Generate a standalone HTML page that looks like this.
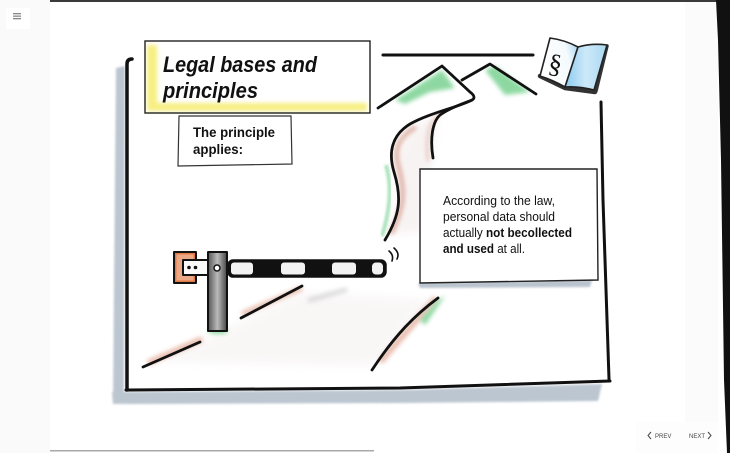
<!DOCTYPE html>
<html><head><meta charset="utf-8">
<style>
html,body{margin:0;padding:0;width:730px;height:453px;overflow:hidden;background:#fff;}
svg{display:block;}
</style></head>
<body>
<svg width="730" height="453" viewBox="0 0 730 453" xmlns="http://www.w3.org/2000/svg">
<defs>
  <filter id="blur2" x="-20%" y="-20%" width="140%" height="140%"><feGaussianBlur stdDeviation="2"/></filter>
  <filter id="blur4" x="-30%" y="-30%" width="160%" height="160%"><feGaussianBlur stdDeviation="4"/></filter>
  <filter id="blur1" x="-20%" y="-20%" width="140%" height="140%"><feGaussianBlur stdDeviation="1"/></filter>
  <linearGradient id="post" x1="0" x2="1" y1="0" y2="0">
    <stop offset="0" stop-color="#555"/><stop offset="0.5" stop-color="#bbb"/><stop offset="1" stop-color="#444"/>
  </linearGradient>
  <linearGradient id="blueR" x1="0" x2="1" y1="0" y2="0">
    <stop offset="0" stop-color="#8ccbf0"/><stop offset="0.5" stop-color="#cde9f8"/><stop offset="1" stop-color="#a9d8f3"/>
  </linearGradient>
  <linearGradient id="blueL" x1="1" x2="0" y1="0" y2="0.3">
    <stop offset="0" stop-color="#9fd2f2"/><stop offset="0.35" stop-color="#f4fafd"/><stop offset="1" stop-color="#ffffff"/>
  </linearGradient>
</defs>

<!-- page backgrounds -->
<rect x="0" y="0" width="50" height="453" fill="#fafafa"/>
<rect x="6" y="8" width="24" height="21" fill="#ffffff"/>
<rect x="13" y="13" width="8" height="1.3" fill="#888"/>
<rect x="13" y="15.5" width="8" height="1.3" fill="#888"/>
<rect x="13" y="18" width="8" height="1.3" fill="#888"/>
<rect x="685" y="0" width="33" height="453" fill="#fbfbfb"/>
<rect x="50" y="0" width="668" height="2" fill="#3a3a3a"/>
<polygon points="716,0 730,0 730,453 727,453 724,380 721,160 718,40" fill="#111"/>
<rect x="50" y="450" width="324" height="1.5" fill="#a8a8a8"/>
<rect x="636" y="422" width="82" height="31" fill="#fdfdfd"/>

<!-- frame shadow -->
<g fill="#bcc6d0" filter="url(#blur1)">
  <polygon points="116,68 125,66 124,398 113,402"/>
  <polygon points="112,392 400,390 602,384 598,401 400,403 113,404"/>
</g>

<!-- road shading -->
<g filter="url(#blur4)" opacity="0.3">
  <polygon points="160,362 300,292 432,300 375,366" fill="#ece4e4"/>
  <polygon points="388,235 399,200 394,160 410,127 438,114 433,160 424,232" fill="#eadada"/>
</g>
<g filter="url(#blur2)" opacity="0.55" fill="none" stroke-linecap="round">
  <path d="M150,362 L200,340" stroke="#d98a70" stroke-width="6"/>
  <path d="M244,313 L300,289" stroke="#d98a70" stroke-width="5"/>
  <path d="M382,360 L434,300" stroke="#d98a70" stroke-width="6"/>
  <path d="M392,232 C405,205 405,190 398,165 C394,150 398,138 414,128" stroke="#c9826b" stroke-width="5"/>
  <path d="M428,160 C426,140 428,122 440,114" stroke="#d0a090" stroke-width="3"/>
  <path d="M310,300 L345,290" stroke="#c4c4c4" stroke-width="5"/>
</g>
<!-- green shading -->
<g filter="url(#blur2)" fill="#5dc87a" opacity="0.7">
  <polygon points="395,100 442,70 455,88 430,92 405,104"/>
  <polygon points="485,70 495,66 530,92 505,95"/>
  <polygon points="438,300 445,296 425,325 420,320"/>
  <ellipse cx="218" cy="331" rx="10" ry="3"/>
</g>
<path d="M382,236 C390,210 392,185 386,165" stroke="#6ccf8a" stroke-width="4" fill="none" opacity="0.55" filter="url(#blur1)"/>

<!-- frame lines -->
<g fill="none" stroke="#111" stroke-linecap="round" stroke-linejoin="round">
  <path d="M132,59 Q127,59 127,64 L127,390" stroke-width="3.5"/>
  <path d="M126,390 L400,388 L610,381" stroke-width="3"/>
  <path d="M601,102 L603,200 L609,379" stroke-width="3"/>
  <path d="M383,55 L533,55" stroke-width="3"/>
</g>

<!-- mountains & road lines -->
<g fill="none" stroke="#111" stroke-width="2.8" stroke-linecap="round" stroke-linejoin="round">
  <path d="M378,108 L442,66 L470,92 Q478,98 470,101"/>
  <path d="M462,80 L490,64 L536,94"/>
  <path d="M385,240 C400,215 402,198 394,172 C388,152 392,135 410,124 C430,113 455,108 470,101"/>
  <path d="M433,158 C430,140 432,122 440,115 C450,108 462,104 472,100"/>
  <path d="M143,367 L200,342"/>
  <path d="M241,318 L302,286"/>
  <path d="M372,370 C395,335 415,315 438,298"/>
  <path d="M389,251 Q394,255 392,261" stroke-width="1.6"/>
  <path d="M394,248 Q400,253 397,259" stroke-width="1.6"/>
</g>

<!-- barrier -->
<g stroke="#111" stroke-linejoin="round">
  <rect x="174" y="252" width="22" height="31" fill="#e07a45" stroke-width="2"/>
  <rect x="176.5" y="254.5" width="17" height="26" fill="#ffffff" stroke="none" opacity="0.35"/>
  <rect x="228" y="260" width="158" height="17" rx="5" fill="#111" stroke-width="1.5"/>
  <rect x="231" y="262.5" width="22" height="12" rx="3" fill="#f2f2f2" stroke="none"/>
  <rect x="281" y="262.5" width="24" height="12" rx="3" fill="#f2f2f2" stroke="none"/>
  <rect x="332" y="262.5" width="24" height="12" rx="3" fill="#f2f2f2" stroke="none"/>
  <rect x="372" y="262.5" width="11" height="12" rx="4" fill="#f2f2f2" stroke="none"/>
  <rect x="183" y="260" width="26" height="15" fill="#fafafa" stroke-width="2"/>
  <circle cx="189" cy="267.5" r="1.8" fill="#111" stroke="none"/>
  <circle cx="195.5" cy="267.5" r="1.8" fill="#111" stroke="none"/>
  <rect x="208" y="252" width="19" height="79" fill="url(#post)" stroke-width="2"/>
  <circle cx="217" cy="268" r="3" fill="#fff" stroke-width="1.5"/>
</g>

<!-- title box -->
<rect x="145" y="41" width="225" height="72" fill="#fff"/>
<g filter="url(#blur2)" opacity="0.85">
  <rect x="147" y="45" width="10" height="64" fill="#f5ec6a"/>
  <rect x="147" y="103" width="220" height="8" fill="#f5ec6a"/>
</g>
<rect x="145" y="41" width="225" height="72" fill="none" stroke="#222" stroke-width="1.4"/>
<text x="163" y="72" font-family="Liberation Sans, sans-serif" font-weight="bold" font-style="italic" font-size="22" fill="#111" textLength="154" lengthAdjust="spacingAndGlyphs">Legal bases and</text>
<text x="163" y="98" font-family="Liberation Sans, sans-serif" font-weight="bold" font-style="italic" font-size="22" fill="#111" textLength="95" lengthAdjust="spacingAndGlyphs">principles</text>

<!-- subtitle box -->
<polygon points="179,116 291,116 292,164 178,166" fill="#fff" stroke="#333" stroke-width="1.2"/>
<text x="193" y="137" font-family="Liberation Sans, sans-serif" font-weight="bold" font-size="14" fill="#111" textLength="82" lengthAdjust="spacingAndGlyphs">The principle</text>
<text x="193" y="154" font-family="Liberation Sans, sans-serif" font-weight="bold" font-size="14" fill="#111" textLength="50" lengthAdjust="spacingAndGlyphs">applies:</text>

<!-- right text box -->
<polygon points="418,283 592,280 590,287 420,288" fill="#b9c3cd" filter="url(#blur1)"/>
<polygon points="420,169 597,169 598,280 420,283" fill="#fff" stroke="#222" stroke-width="1.4"/>
<g font-family="Liberation Sans, sans-serif" font-size="12.5" fill="#111">
  <text x="443" y="205" textLength="112" lengthAdjust="spacingAndGlyphs">According to the law,</text>
  <text x="443" y="221" textLength="112" lengthAdjust="spacingAndGlyphs">personal data should</text>
  <text x="443" y="237" textLength="129" lengthAdjust="spacingAndGlyphs">actually <tspan font-weight="bold">not becollected</tspan></text>
  <text x="443" y="253" textLength="82" lengthAdjust="spacingAndGlyphs"><tspan font-weight="bold">and used</tspan> at all.</text>
</g>

<!-- book -->
<g stroke="#222" stroke-linejoin="round" stroke-linecap="round">
  <path d="M540,76 L565,88 L595,92" fill="none" stroke="#333" stroke-width="4.5"/>
  <path d="M607,46 L596,91" fill="none" stroke="#333" stroke-width="3.5"/>
  <path d="M550,38 Q565,40 578,47 L565,87 Q553,80 540,76 Z" fill="url(#blueL)" stroke-width="1.6"/>
  <path d="M578,47 Q592,43 607,45 L594,90 Q578,86 565,87 Z" fill="url(#blueR)" stroke-width="1.6"/>
</g>
<text x="549" y="73" font-family="Liberation Serif, serif" font-size="27" fill="#111" transform="rotate(10 557 62)">§</text>

<!-- nav -->
<g font-family="Liberation Sans, sans-serif" font-size="6" fill="#444">
  <text x="655" y="438">PREV</text>
  <text x="689" y="438">NEXT</text>
</g>
<path d="M651,432 L648,435.5 L651,439" fill="none" stroke="#444" stroke-width="1"/>
<path d="M708,432 L711,435.5 L708,439" fill="none" stroke="#444" stroke-width="1"/>
</svg>
</body></html>
